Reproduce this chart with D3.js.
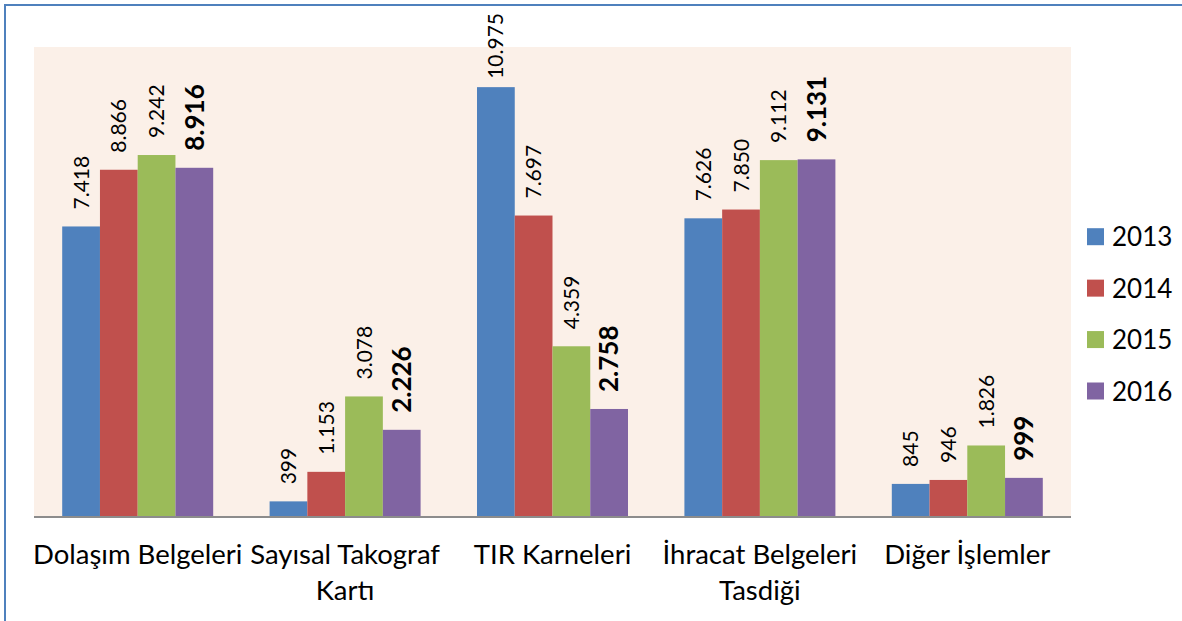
<!DOCTYPE html>
<html>
<head>
<meta charset="utf-8">
<script src="https://cdn.jsdelivr.net/npm/d3@7"></script>
<style>
  html, body { margin: 0; padding: 0; background: #ffffff; }
  svg { display: block; }
  text { font-family: Lato, "Open Sans", sans-serif; fill: #000; }
</style>
</head>
<body>
<svg id="chart" width="1182" height="621"></svg>
<script>
// ---- data ----
const categories = [
  ["Dolaşım Belgeleri"],
  ["Sayısal Takograf", "Kartı"],
  ["TIR Karneleri"],
  ["İhracat Belgeleri", "Tasdiği"],
  ["Diğer İşlemler"]
];
const years = ["2013", "2014", "2015", "2016"];
const values2013 = [7418, 399, 10975, 7626, 845];
const values2014 = [8866, 1153, 7697, 7850, 946];
const values2015 = [9242, 3078, 4359, 9112, 1826];
const values2016 = [8916, 2226, 2758, 9131, 999];
const seriesValues = [values2013, values2014, values2015, values2016];
const colors = ["#4F81BD", "#C0504D", "#9BBB59", "#8064A2"];
const yDomainMax = 12000;

// ---- layout ----
const W = 1182, H = 621;
const plot = { left: 34, right: 1071, top: 47, bottom: 517 };
const svg = d3.select("#chart");

const fmt = v => d3.format(",")(v).replace(/,/g, ".");

// chart frame
svg.append("rect")
  .attr("x", 5).attr("y", 5)
  .attr("width", W + 20).attr("height", H + 20)
  .attr("fill", "#ffffff")
  .attr("stroke", "#4F81BD").attr("stroke-width", 2);

// plot area background
svg.append("rect")
  .attr("x", plot.left).attr("y", plot.top)
  .attr("width", plot.right - plot.left).attr("height", plot.bottom - plot.top)
  .attr("fill", "#FBF0E8");

const catKeys = categories.map(c => c.join(" "));
const x0 = d3.scaleBand().domain(catKeys).range([plot.left, plot.right]).padding(0);
const groupW = x0.bandwidth() * 0.728;
const x1 = d3.scaleBand().domain(years).range([0, groupW]).padding(0);
const y = d3.scaleLinear().domain([0, yDomainMax]).range([plot.bottom, plot.top]);

const bars = [];
catKeys.forEach((c, ci) => {
  years.forEach((yr, si) => {
    bars.push({ cat: c, year: yr, si, value: seriesValues[si][ci] });
  });
});

const gBars = svg.append("g");
gBars.selectAll("rect").data(bars).enter().append("rect")
  .attr("x", d => x0(d.cat) + (x0.bandwidth() - groupW) / 2 + x1(d.year))
  .attr("y", d => y(d.value))
  .attr("width", x1.bandwidth())
  .attr("height", d => y(0) - y(d.value))
  .attr("fill", d => colors[d.si]);

// axis line
svg.append("line")
  .attr("x1", plot.left).attr("x2", plot.right)
  .attr("y1", y(0)).attr("y2", y(0))
  .attr("stroke", "#8C8C8C").attr("stroke-width", 2);

// data labels (rotated)
const gap = 17;
const gLab = svg.append("g");
bars.forEach(d => {
  const cx = x0(d.cat) + (x0.bandwidth() - groupW) / 2 + x1(d.year) + x1.bandwidth() / 2;
  const bold = d.si === 3;
  const t = gLab.append("text")
    .attr("text-anchor", "start")
    .attr("dy", "0.36em")
    .style("font-size", bold ? "26px" : "21px")
    .style("font-weight", bold ? "bold" : "normal")
    .text(fmt(d.value));
  const len = t.node().getComputedTextLength();
  const start = Math.max(y(d.value) - gap, 13 + len);
  t.attr("transform", `translate(${cx},${start}) rotate(-90)`);
});

// category labels
const gCat = svg.append("g");
categories.forEach((lines, ci) => {
  const cx = x0(catKeys[ci]) + x0.bandwidth() / 2;
  lines.forEach((ln, li) => {
    gCat.append("text")
      .attr("x", cx)
      .attr("y", 564 + li * 36)
      .attr("text-anchor", "middle")
      .style("font-size", "27.5px")
      .text(ln);
  });
});

// legend
const legend = svg.append("g");
const legendY = d3.scalePoint().domain(years).range([236.7, 391]);
years.forEach((yr, i) => {
  legend.append("rect")
    .attr("x", 1087).attr("y", legendY(yr) - 8.5)
    .attr("width", 17).attr("height", 17)
    .attr("fill", colors[i]);
  legend.append("text")
    .attr("x", 1112).attr("y", legendY(yr) + 9.5)
    .style("font-size", "26px")
    .text(yr);
});
</script>
</body>
</html>
